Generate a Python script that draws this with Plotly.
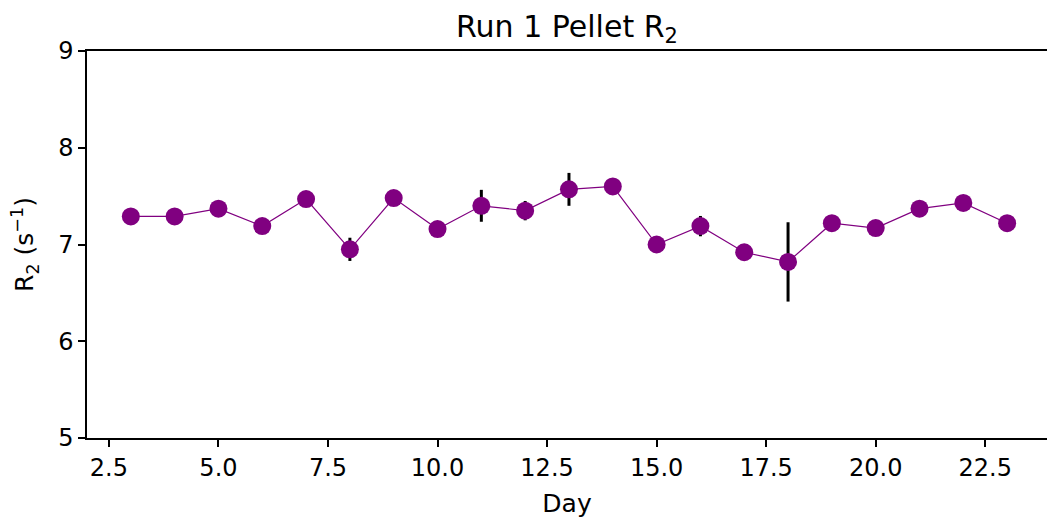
import plotly.graph_objects as go

days = list(range(3, 24))
r2 = [7.29, 7.29, 7.37, 7.19, 7.47, 6.95, 7.48, 7.16, 7.40, 7.35, 7.57,
      7.60, 7.00, 7.19, 6.92, 6.82, 7.22, 7.17, 7.37, 7.43, 7.22]
r2_err = [0.03, 0.03, 0.04, 0.04, 0.05, 0.12, 0.04, 0.04, 0.165, 0.10, 0.17,
          0.05, 0.04, 0.105, 0.05, 0.41, 0.05, 0.04, 0.04, 0.05, 0.04]

x_ticks = [2.5, 5.0, 7.5, 10.0, 12.5, 15.0, 17.5, 20.0, 22.5]
y_ticks = [5, 6, 7, 8, 9]

fig = go.Figure()
fig.add_trace(go.Scatter(
    x=days, y=r2, mode="markers",
    marker=dict(size=1, opacity=0),
    error_y=dict(type="data", array=r2_err, visible=True, color="black",
                 thickness=3, width=0),
    showlegend=False, hoverinfo="skip"))
fig.add_trace(go.Scatter(
    x=days, y=r2, mode="lines+markers",
    line=dict(color="#800080", width=1.2),
    marker=dict(color="#800080", size=18),
    showlegend=False))

font = "DejaVu Sans, sans-serif"
fig.update_layout(
    width=1047, height=518,
    margin=dict(l=87, r=0, t=51, b=80),
    plot_bgcolor="white", paper_bgcolor="white",
    font=dict(family=font, size=24, color="black"),
    title=dict(text="Run 1 Pellet R<sub>2</sub>", x=0.5, xanchor="center",
               xref="paper", y=1 - 26 / 518, yanchor="middle",
               font=dict(size=30, family=font, color="black")),
    xaxis=dict(range=[2, 23.91], tickvals=x_ticks, tickformat=".1f",
               showgrid=False, zeroline=False, showline=True,
               linecolor="black", linewidth=1.5, mirror=True,
               ticks="outside", ticklen=7, tickwidth=1.5, tickcolor="black",
               tickfont=dict(size=24), automargin=False,
               title=dict(text="Day", standoff=14, font=dict(size=25))),
    yaxis=dict(range=[5, 9], tickvals=y_ticks,
               showgrid=False, zeroline=False, showline=True,
               linecolor="black", linewidth=1.5, mirror=False,
               ticks="outside", ticklen=7, tickwidth=1.5, tickcolor="black",
               tickfont=dict(size=24), automargin=False,
               title=dict(text="R<sub>2</sub> (s<sup>−1</sup>)", standoff=17,
                          font=dict(size=25))),
)

fig.write_html("out.html")
